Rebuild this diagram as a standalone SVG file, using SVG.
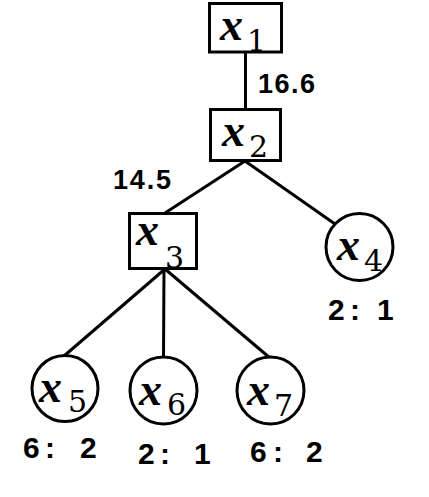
<svg xmlns="http://www.w3.org/2000/svg" width="429" height="497" viewBox="0 0 429 497">
  <style>
    .box { fill: #fff; stroke: #000; stroke-width: 3; }
    .leaf { fill: #fff; stroke: #000; stroke-width: 3; }
    .edge { stroke: #000; stroke-width: 3; fill: none; }
    .var { font-family: "Liberation Serif", "DejaVu Serif", serif; font-style: italic; font-weight: bold; font-size: 46px; fill: #000; }
    .sub { font-family: "DejaVu Serif", "Liberation Serif", serif; font-size: 30px; fill: #000; }
    .num { font-family: "Liberation Sans", "Noto Sans", sans-serif; font-weight: bold; font-size: 27px; fill: #000; }
    .ratio { font-family: "Liberation Sans", "Noto Sans", sans-serif; font-weight: bold; font-size: 30px; fill: #000; }
  </style>
  <rect width="429" height="497" fill="#fff"/>

  <!-- tree edges -->
  <g id="connectors">
    <line class="edge" x1="245.5" y1="52" x2="245.5" y2="109"/>
    <line class="edge" x1="245" y1="161" x2="165" y2="213"/>
    <line class="edge" x1="245" y1="161" x2="335" y2="224"/>
    <line class="edge" x1="165" y1="269" x2="64" y2="356"/>
    <line class="edge" x1="164" y1="269" x2="163.5" y2="358"/>
    <line class="edge" x1="165" y1="269" x2="270" y2="358"/>
  </g>

  <!-- edge weights -->
  <text class="num" x="258" y="93" textLength="57">16.6</text>
  <text class="num" x="113" y="189" textLength="58">14.5</text>

  <g id="x1">
    <rect class="box" x="209.5" y="3.5" width="72" height="48.5"/>
    <text class="var" x="220" y="40">x</text>
    <text class="sub" x="247" y="51">1</text>
  </g>

  <g id="x2">
    <rect class="box" x="210.5" y="109.5" width="70" height="51"/>
    <text class="var" x="222" y="146">x</text>
    <text class="sub" x="249" y="157">2</text>
  </g>

  <g id="x3">
    <rect class="box" x="129.5" y="213.5" width="67" height="55"/>
    <text class="var" x="136" y="245">x</text>
    <text class="sub" x="165" y="268">3</text>
  </g>

  <g id="x4">
    <circle class="leaf" cx="359.5" cy="247" r="33.5"/>
    <text class="var" x="337" y="260">x</text>
    <text class="sub" x="364" y="271">4</text>
    <text class="ratio" y="320"><tspan x="328">2</tspan><tspan x="350">:</tspan><tspan x="377">1</tspan></text>
  </g>

  <g id="x5">
    <circle class="leaf" cx="65" cy="388.5" r="33"/>
    <text class="var" x="39" y="402">x</text>
    <text class="sub" x="68" y="412">5</text>
    <text class="ratio" y="458"><tspan x="23">6</tspan><tspan x="45">:</tspan><tspan x="80">2</tspan></text>
  </g>

  <g id="x6">
    <circle class="leaf" cx="163.5" cy="390.5" r="33.5"/>
    <text class="var" x="139" y="405">x</text>
    <text class="sub" x="167" y="415">6</text>
    <text class="ratio" y="464"><tspan x="138">2</tspan><tspan x="160">:</tspan><tspan x="194">1</tspan></text>
  </g>

  <g id="x7">
    <circle class="leaf" cx="270.5" cy="390.5" r="33.5"/>
    <text class="var" x="247" y="405">x</text>
    <text class="sub" x="274" y="416">7</text>
    <text class="ratio" y="462"><tspan x="250">6</tspan><tspan x="273">:</tspan><tspan x="306">2</tspan></text>
  </g>
</svg>
